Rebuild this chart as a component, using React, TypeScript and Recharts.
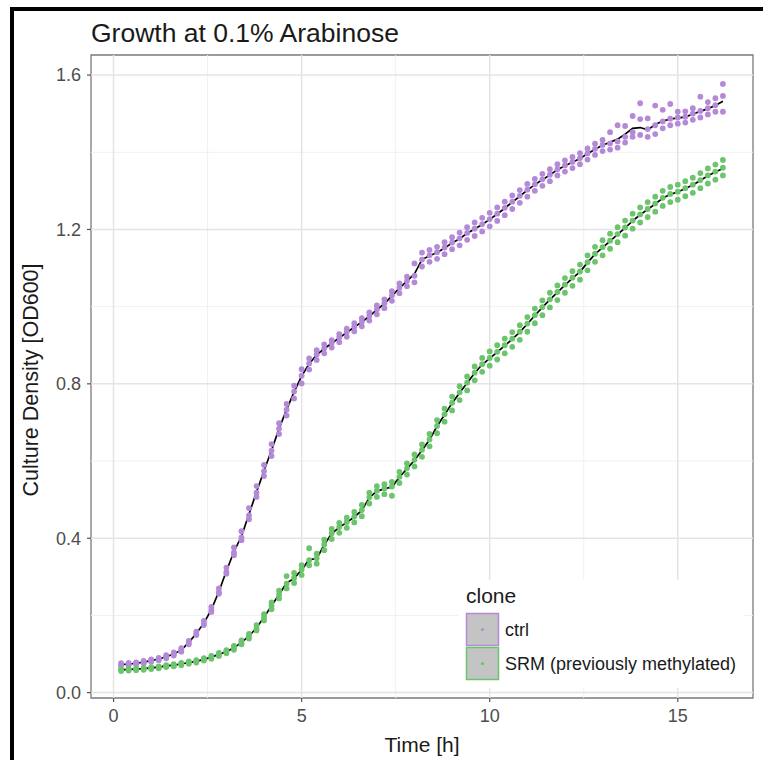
import React from "react";
import {
  ComposedChart,
  XAxis,
  YAxis,
  Scatter,
  Line,
  ReferenceLine,
  ReferenceArea,
} from "recharts";

const TIMES = [
  0.2, 0.4, 0.6, 0.8, 1.0, 1.2, 1.4, 1.6, 1.8, 2.0, 2.2, 2.4, 2.6, 2.8, 3.0, 3.2, 3.4, 3.6, 3.8, 4.0,
  4.2, 4.4, 4.6, 4.8, 5.0, 5.2, 5.4, 5.6, 5.8, 6.0, 6.2, 6.4, 6.6, 6.8, 7.0, 7.2, 7.4, 7.6, 7.8, 8.0,
  8.2, 8.4, 8.6, 8.8, 9.0, 9.2, 9.4, 9.6, 9.8, 10.0, 10.2, 10.4, 10.6, 10.8, 11.0, 11.2, 11.4, 11.6, 11.8, 12.0,
  12.2, 12.4, 12.6, 12.8, 13.0, 13.2, 13.4, 13.6, 13.8, 14.0, 14.2, 14.4, 14.6, 14.8, 15.0, 15.2, 15.4, 15.6, 15.8, 16.0,
  16.2,
];

// smoothed curves (black lines)
const CTRL_LINE = [
  0.073, 0.074, 0.076, 0.079, 0.083, 0.087, 0.093, 0.100, 0.110, 0.130, 0.153, 0.180, 0.215, 0.262, 0.315, 0.365, 0.405, 0.462, 0.520, 0.575,
  0.628, 0.684, 0.733, 0.779, 0.820, 0.852, 0.875, 0.891, 0.905, 0.919, 0.933, 0.947, 0.960, 0.975, 0.992, 1.008, 1.028, 1.048, 1.066, 1.085,
  1.122, 1.132, 1.140, 1.152, 1.165, 1.176, 1.190, 1.201, 1.213, 1.226, 1.240, 1.255, 1.271, 1.286, 1.302, 1.316, 1.329, 1.341, 1.355, 1.365,
  1.374, 1.384, 1.396, 1.408, 1.418, 1.426, 1.434, 1.447, 1.462, 1.464, 1.458, 1.472, 1.481, 1.486, 1.489, 1.491, 1.499, 1.506, 1.513, 1.521,
  1.532,
];
const SRM_LINE = [
  0.059, 0.060, 0.061, 0.062, 0.064, 0.066, 0.069, 0.071, 0.074, 0.078, 0.081, 0.086, 0.092, 0.099, 0.106, 0.116, 0.130, 0.146, 0.168, 0.195,
  0.225, 0.254, 0.284, 0.296, 0.318, 0.345, 0.347, 0.383, 0.412, 0.428, 0.441, 0.455, 0.472, 0.505, 0.522, 0.528, 0.533, 0.558, 0.580, 0.602,
  0.628, 0.655, 0.690, 0.720, 0.750, 0.777, 0.802, 0.828, 0.850, 0.866, 0.882, 0.899, 0.916, 0.934, 0.955, 0.977, 0.998, 1.018, 1.037, 1.056,
  1.074, 1.090, 1.114, 1.136, 1.153, 1.170, 1.187, 1.204, 1.222, 1.238, 1.252, 1.266, 1.281, 1.291, 1.297, 1.306, 1.315, 1.327, 1.339, 1.349,
  1.358,
];

// replicate measurements (points)
const CTRL_R1 = [
  0.076, 0.077, 0.078, 0.082, 0.086, 0.090, 0.097, 0.104, 0.115, 0.134, 0.158, 0.186, 0.222, 0.270, 0.324, 0.376, 0.418, 0.478, 0.535, 0.590,
  0.644, 0.698, 0.748, 0.795, 0.838, 0.866, 0.887, 0.902, 0.913, 0.929, 0.943, 0.957, 0.970, 0.985, 1.003, 1.019, 1.040, 1.060, 1.078, 1.112,
  1.140, 1.147, 1.155, 1.167, 1.180, 1.192, 1.206, 1.218, 1.230, 1.243, 1.257, 1.272, 1.288, 1.302, 1.318, 1.331, 1.344, 1.356, 1.369, 1.379,
  1.388, 1.398, 1.410, 1.422, 1.432, 1.452, 1.470, 1.468, 1.494, 1.527, 1.488, 1.521, 1.510, 1.525, 1.505, 1.506, 1.514, 1.544, 1.530, 1.540,
  1.577,
];
const CTRL_R2 = [
  0.072, 0.073, 0.076, 0.078, 0.083, 0.086, 0.093, 0.100, 0.109, 0.131, 0.152, 0.179, 0.214, 0.260, 0.313, 0.363, 0.402, 0.459, 0.518, 0.574,
  0.627, 0.684, 0.733, 0.780, 0.821, 0.853, 0.876, 0.892, 0.906, 0.920, 0.934, 0.948, 0.961, 0.976, 0.993, 1.009, 1.029, 1.049, 1.067, 1.080,
  1.122, 1.133, 1.141, 1.153, 1.166, 1.177, 1.191, 1.202, 1.214, 1.227, 1.241, 1.256, 1.272, 1.287, 1.303, 1.317, 1.330, 1.342, 1.356, 1.366,
  1.375, 1.385, 1.397, 1.409, 1.419, 1.423, 1.428, 1.440, 1.452, 1.486, 1.460, 1.470, 1.480, 1.487, 1.490, 1.492, 1.500, 1.507, 1.514, 1.522,
  1.546,
];
const CTRL_R3 = [
  0.070, 0.071, 0.073, 0.076, 0.080, 0.084, 0.089, 0.096, 0.106, 0.125, 0.149, 0.175, 0.209, 0.256, 0.308, 0.356, 0.395, 0.449, 0.507, 0.561,
  0.613, 0.670, 0.718, 0.762, 0.801, 0.837, 0.862, 0.879, 0.894, 0.908, 0.922, 0.936, 0.949, 0.964, 0.980, 0.996, 1.015, 1.035, 1.053, 1.063,
  1.104, 1.116, 1.124, 1.136, 1.149, 1.159, 1.173, 1.183, 1.195, 1.208, 1.222, 1.237, 1.253, 1.269, 1.285, 1.300, 1.313, 1.325, 1.340, 1.350,
  1.359, 1.369, 1.381, 1.393, 1.403, 1.407, 1.412, 1.425, 1.440, 1.445, 1.440, 1.447, 1.462, 1.470, 1.474, 1.477, 1.484, 1.490, 1.498, 1.505,
  1.505,
];

const SRM_R1 = [
  0.061, 0.062, 0.063, 0.064, 0.066, 0.068, 0.071, 0.074, 0.077, 0.081, 0.084, 0.089, 0.095, 0.103, 0.110, 0.121, 0.135, 0.152, 0.175, 0.203,
  0.234, 0.264, 0.302, 0.310, 0.330, 0.374, 0.360, 0.396, 0.424, 0.440, 0.453, 0.468, 0.486, 0.518, 0.535, 0.540, 0.546, 0.572, 0.594, 0.617,
  0.643, 0.670, 0.706, 0.736, 0.767, 0.794, 0.819, 0.845, 0.867, 0.884, 0.900, 0.917, 0.934, 0.952, 0.973, 0.995, 1.016, 1.036, 1.055, 1.074,
  1.092, 1.109, 1.133, 1.155, 1.172, 1.189, 1.206, 1.223, 1.241, 1.257, 1.271, 1.285, 1.300, 1.310, 1.316, 1.325, 1.334, 1.346, 1.358, 1.368,
  1.380,
];
const SRM_R2 = [
  0.059, 0.060, 0.061, 0.062, 0.064, 0.066, 0.069, 0.071, 0.074, 0.078, 0.081, 0.086, 0.092, 0.099, 0.106, 0.116, 0.130, 0.146, 0.168, 0.195,
  0.225, 0.254, 0.282, 0.297, 0.319, 0.343, 0.348, 0.384, 0.413, 0.429, 0.442, 0.456, 0.473, 0.506, 0.523, 0.529, 0.534, 0.559, 0.581, 0.603,
  0.629, 0.656, 0.691, 0.721, 0.751, 0.778, 0.803, 0.829, 0.851, 0.867, 0.883, 0.900, 0.917, 0.935, 0.956, 0.978, 0.999, 1.019, 1.038, 1.057,
  1.075, 1.091, 1.115, 1.137, 1.154, 1.171, 1.188, 1.205, 1.223, 1.239, 1.253, 1.267, 1.282, 1.292, 1.298, 1.307, 1.316, 1.328, 1.340, 1.350,
  1.360,
];
const SRM_R3 = [
  0.056, 0.057, 0.058, 0.059, 0.061, 0.063, 0.066, 0.068, 0.071, 0.075, 0.078, 0.083, 0.088, 0.095, 0.102, 0.111, 0.125, 0.140, 0.161, 0.187,
  0.216, 0.244, 0.270, 0.284, 0.305, 0.330, 0.334, 0.369, 0.398, 0.414, 0.427, 0.441, 0.457, 0.490, 0.507, 0.514, 0.510, 0.543, 0.565, 0.586,
  0.611, 0.638, 0.672, 0.702, 0.731, 0.758, 0.783, 0.809, 0.831, 0.847, 0.863, 0.879, 0.896, 0.914, 0.935, 0.957, 0.978, 0.998, 1.017, 1.036,
  1.054, 1.070, 1.094, 1.116, 1.133, 1.150, 1.167, 1.184, 1.202, 1.218, 1.232, 1.246, 1.261, 1.271, 1.277, 1.286, 1.295, 1.307, 1.319, 1.329,
  1.340,
];

const X_TICKS = [0, 5, 10, 15];
const X_MINOR = [2.5, 7.5, 12.5];
const Y_TICKS = [0, 0.4, 0.8, 1.2, 1.6];
const Y_MINOR = [0.2, 0.6, 1.0, 1.4];
const X_DOMAIN: [number, number] = [-0.6, 17.0];
const Y_DOMAIN: [number, number] = [-0.014, 1.652];

const CTRL_COLOR = "#b48ad8";
const SRM_COLOR = "#6cc46c";
const FONT = "'Liberation Sans', Arial, sans-serif";

const toPoints = (vals: number[]) => vals.map((v, i) => ({ t: TIMES[i], v }));

const ctrlPoints = [...toPoints(CTRL_R1), ...toPoints(CTRL_R2), ...toPoints(CTRL_R3)];
const srmPoints = [...toPoints(SRM_R1), ...toPoints(SRM_R2), ...toPoints(SRM_R3)];
const ctrlLine = toPoints(CTRL_LINE);
const srmLine = toPoints(SRM_LINE);

const dot = (color: string) => (p: any) => (
  <circle cx={p.cx} cy={p.cy} r={2.9} fill={color} stroke="none" />
);

export default function App() {
  return (
    <div
      style={{
        position: "absolute",
        left: 0,
        top: 0,
        width: 763,
        height: 760,
        background: "#fff",
        overflow: "hidden",
        fontFamily: FONT,
      }}
    >
      <div
        style={{
          position: "absolute",
          left: 10,
          top: 7,
          width: 900,
          height: 900,
          borderLeft: "4px solid #000",
          borderTop: "4px solid #000",
        }}
      />
      <div style={{ position: "absolute", left: 0, top: 0 }}>
        <ComposedChart
          width={763}
          height={760}
          margin={{ top: 55, right: 10, bottom: 0, left: 0 }}
        >
          <XAxis
            type="number"
            dataKey="t"
            domain={X_DOMAIN}
            ticks={X_TICKS}
            allowDataOverflow
            axisLine={false}
            tickLine={{ stroke: "#555", strokeWidth: 1.2 }}
            tickSize={4}
            tickMargin={7}
            height={62}
            tick={{ fill: "#4d4d4d", fontSize: 18, fontFamily: FONT }}
          />
          <YAxis
            type="number"
            dataKey="v"
            domain={Y_DOMAIN}
            ticks={Y_TICKS}
            allowDataOverflow
            axisLine={false}
            tickLine={{ stroke: "#555", strokeWidth: 1.2 }}
            tickSize={4}
            tickMargin={6}
            width={91}
            tickFormatter={(v: number) => v.toFixed(1)}
            tick={{ fill: "#4d4d4d", fontSize: 18, fontFamily: FONT }}
          />
          {Y_MINOR.map((y) => (
            <ReferenceLine key={"ym" + y} y={y} stroke="#f0f0f0" strokeWidth={1} />
          ))}
          {X_MINOR.map((x) => (
            <ReferenceLine key={"xm" + x} x={x} stroke="#f0f0f0" strokeWidth={1} />
          ))}
          {Y_TICKS.map((y) => (
            <ReferenceLine key={"yM" + y} y={y} stroke="#e4e4e4" strokeWidth={1.5} />
          ))}
          {X_TICKS.map((x) => (
            <ReferenceLine key={"xM" + x} x={x} stroke="#e4e4e4" strokeWidth={1.5} />
          ))}
          <Scatter
            data={ctrlPoints}
            fill={CTRL_COLOR}
            shape={dot(CTRL_COLOR)}
            isAnimationActive={false}
          />
          <Scatter
            data={srmPoints}
            fill={SRM_COLOR}
            shape={dot(SRM_COLOR)}
            isAnimationActive={false}
          />
          <Line
            data={ctrlLine}
            dataKey="v"
            type="linear"
            stroke="#000"
            strokeWidth={1.7}
            dot={false}
            isAnimationActive={false}
          />
          <Line
            data={srmLine}
            dataKey="v"
            type="linear"
            stroke="#000"
            strokeWidth={1.7}
            dot={false}
            isAnimationActive={false}
          />
          <ReferenceArea
            x1={X_DOMAIN[0]}
            x2={X_DOMAIN[1]}
            y1={Y_DOMAIN[0]}
            y2={Y_DOMAIN[1]}
            fill="none"
            fillOpacity={0}
            stroke="#7a7a7a"
            strokeWidth={1.3}
            ifOverflow="visible"
          />
        </ComposedChart>
      </div>
      <svg
        width={763}
        height={760}
        style={{ position: "absolute", left: 0, top: 0, pointerEvents: "none" }}
        fontFamily={FONT}
      >
        <text x={91} y={42} fontSize={26.5} fill="#1a1a1a">
          Growth at 0.1% Arabinose
        </text>
        <text x={422} y={752} fontSize={21} fill="#1a1a1a" textAnchor="middle">
          Time [h]
        </text>
        <text
          transform="translate(38,380) rotate(-90)"
          fontSize={21.5}
          fill="#1a1a1a"
          textAnchor="middle"
        >
          Culture Density [OD600]
        </text>
        <rect x={458} y={580} width={286} height={108} fill="#fff" />
        <text x={466} y={603} fontSize={21} fill="#1a1a1a">
          clone
        </text>
        <rect x={466.5} y={613.5} width={32} height={32} fill="#c4c4c4" stroke={CTRL_COLOR} strokeWidth={1.5} />
        <circle cx={482.5} cy={629.5} r={1.6} fill={CTRL_COLOR} />
        <rect x={466.5} y={647.5} width={32} height={32} fill="#c4c4c4" stroke={SRM_COLOR} strokeWidth={1.5} />
        <circle cx={482.5} cy={663.5} r={1.6} fill={SRM_COLOR} />
        <text x={505} y={635.5} fontSize={18} fill="#1a1a1a">
          ctrl
        </text>
        <text x={505} y={669.5} fontSize={18} fill="#1a1a1a">
          SRM (previously methylated)
        </text>
      </svg>
    </div>
  );
}
